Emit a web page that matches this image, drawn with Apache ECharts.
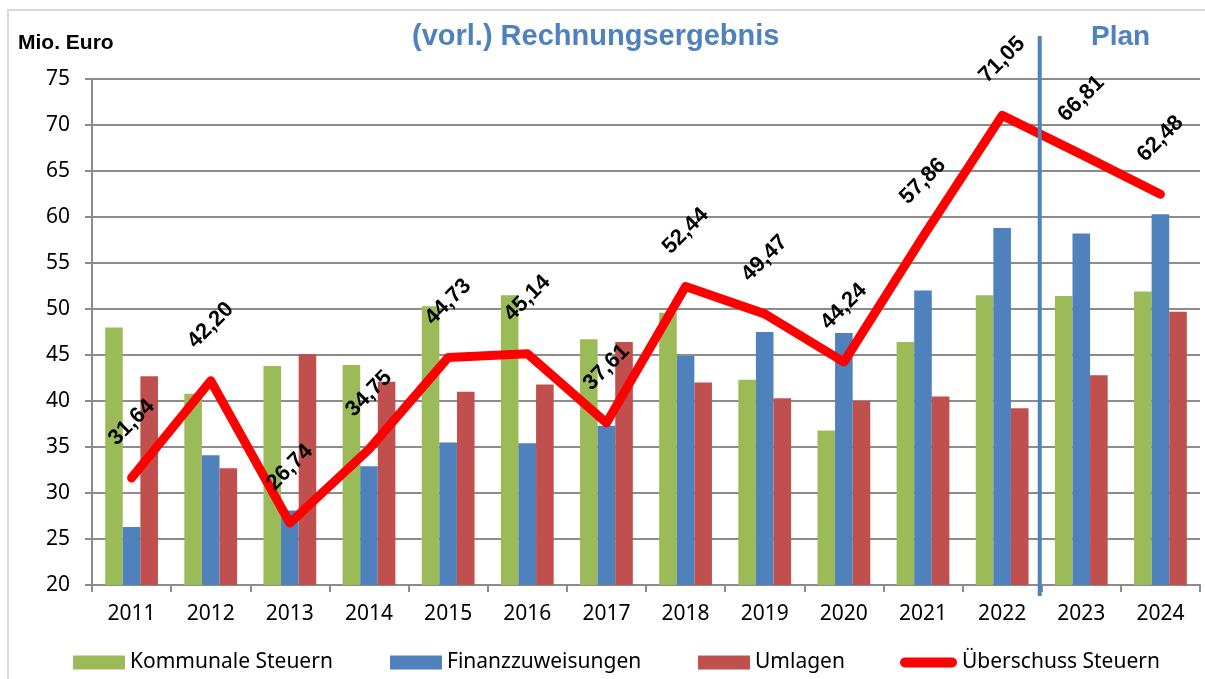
<!DOCTYPE html>
<html>
<head>
<meta charset="utf-8">
<script src="https://cdn.jsdelivr.net/npm/echarts@6/dist/echarts.min.js"></script>
<style>
  html, body { margin: 0; padding: 0; background: #fff; }
  #chart { width: 1205px; height: 679px; }
</style>
</head>
<body>
<div id="chart"></div>
<script>
var myChart = echarts.init(document.getElementById('chart'));

// Daten (Mio. Euro)
var jahre = ['2011','2012','2013','2014','2015','2016','2017','2018','2019','2020','2021','2022','2023','2024'];
var kommunaleSteuern = [48.0, 40.8, 43.8, 43.9, 50.3, 51.5, 46.7, 49.6, 42.3, 36.8, 46.4, 51.5, 51.4, 51.9];
var finanzzuweisungen = [26.3, 34.1, 28.1, 32.9, 35.5, 35.4, 37.3, 44.9, 47.5, 47.4, 52.0, 58.8, 58.2, 60.3];
var umlagen = [42.7, 32.7, 45.1, 42.1, 41.0, 41.8, 46.4, 42.0, 40.3, 40.0, 40.5, 39.2, 42.8, 49.7];
var ueberschuss = [31.64, 42.20, 26.74, 34.75, 44.73, 45.14, 37.61, 52.44, 49.47, 44.24, 57.86, 71.05, 66.81, 62.48];

var font = 'Noto Sans';
var grau = '#8c8c8c';

function legende(name, left, extra) {
    var l = {
        data: [name],
        left: left,
        top: 652,
        padding: 0,
        itemWidth: 52,
        itemHeight: 14,
        icon: 'rect',
        textStyle: { fontSize: 21, color: '#000', fontFamily: font, padding: [0, 0, 0, 0] }
    };
    if (extra) {
        for (var k in extra) l[k] = extra[k];
    }
    return l;
}

var option = {
    animation: false,
    title: [
        {
            text: 'Mio. Euro', left: 18, top: 33, padding: 0,
            textStyle: { fontSize: 21, fontWeight: 'bold', color: '#000', fontFamily: 'Liberation Sans' }
        },
        {
            text: '(vorl.) Rechnungsergebnis', left: 412, top: 22, padding: 0,
            textStyle: { fontSize: 29, fontWeight: 'bold', color: '#4f81bd', fontFamily: 'Liberation Sans' }
        },
        {
            text: 'Plan', left: 1091, top: 23, padding: 0,
            textStyle: { fontSize: 28, fontWeight: 'bold', color: '#4f81bd', fontFamily: 'Liberation Sans' }
        }
    ],
    legend: [
        legende('Kommunale Steuern', 73),
        legende('Finanzzuweisungen', 390),
        legende('Umlagen', 698),
        legende('Überschuss Steuern', 900, {
            itemWidth: 57,
            itemHeight: 10,
            icon: 'path://M5,0H52A5,5,0,0,1,52,10H5A5,5,0,0,1,5,0Z'
        })
    ],
    grid: {
        left: 92,
        right: 5,
        top: 79,
        bottom: 94
    },
    xAxis: {
        type: 'category',
        data: jahre,
        axisLine: { lineStyle: { color: grau, width: 2 } },
        axisTick: { show: true, length: 7, lineStyle: { color: grau, width: 2 } },
        axisLabel: { fontSize: 21, color: '#000', fontFamily: font, margin: 19 }
    },
    yAxis: {
        type: 'value',
        min: 20,
        max: 75,
        interval: 5,
        axisLine: { show: true, lineStyle: { color: grau, width: 2 } },
        axisTick: { show: true, length: 7, lineStyle: { color: grau, width: 2 } },
        axisLabel: { fontSize: 21, color: '#000', fontFamily: font, margin: 22 },
        splitLine: { lineStyle: { color: grau, width: 2 } }
    },
    series: [
        {
            name: 'Kommunale Steuern',
            type: 'bar',
            data: kommunaleSteuern,
            barWidth: 17.6,
            barGap: '0%',
            itemStyle: { color: '#9bbb59' }
        },
        {
            name: 'Finanzzuweisungen',
            type: 'bar',
            data: finanzzuweisungen,
            barWidth: 17.6,
            barGap: '0%',
            itemStyle: { color: '#4f81bd' }
        },
        {
            name: 'Umlagen',
            type: 'bar',
            data: umlagen,
            barWidth: 17.6,
            barGap: '0%',
            itemStyle: { color: '#c0504d' }
        },
        {
            name: 'Überschuss Steuern',
            type: 'line',
            data: ueberschuss,
            symbol: 'circle',
            symbolSize: 1,
            itemStyle: { color: '#ff0000' },
            lineStyle: { color: '#ff0000', width: 9, cap: 'round', join: 'round' },
            label: {
                show: true,
                position: 'top',
                distance: 55,
                rotate: 45,
                align: 'center',
                verticalAlign: 'middle',
                fontSize: 22,
                fontWeight: 'bold',
                color: '#000',
                fontFamily: 'Liberation Sans',
                formatter: function (p) {
                    return p.value.toFixed(2).replace('.', ',');
                }
            },
            z: 5
        }
    ]
};

myChart.setOption(option);

// Trennlinie zwischen Ergebnis und Plan + Rahmen
var x1 = myChart.convertToPixel({ xAxisIndex: 0 }, 11);
var x2 = myChart.convertToPixel({ xAxisIndex: 0 }, 12);
var xTrenn = (x1 + x2) / 2 - 2;

myChart.setOption({
    graphic: [
        {
            type: 'rect',
            shape: { x: 8, y: 10, width: 1210, height: 690 },
            style: { fill: 'none', stroke: '#d9d9d9', lineWidth: 2 },
            silent: true
        },
        {
            type: 'line',
            shape: { x1: xTrenn, y1: 36, x2: xTrenn, y2: 596 },
            style: { stroke: '#4f81bd', lineWidth: 4 },
            z: 10
        }
    ]
});
</script>
</body>
</html>
